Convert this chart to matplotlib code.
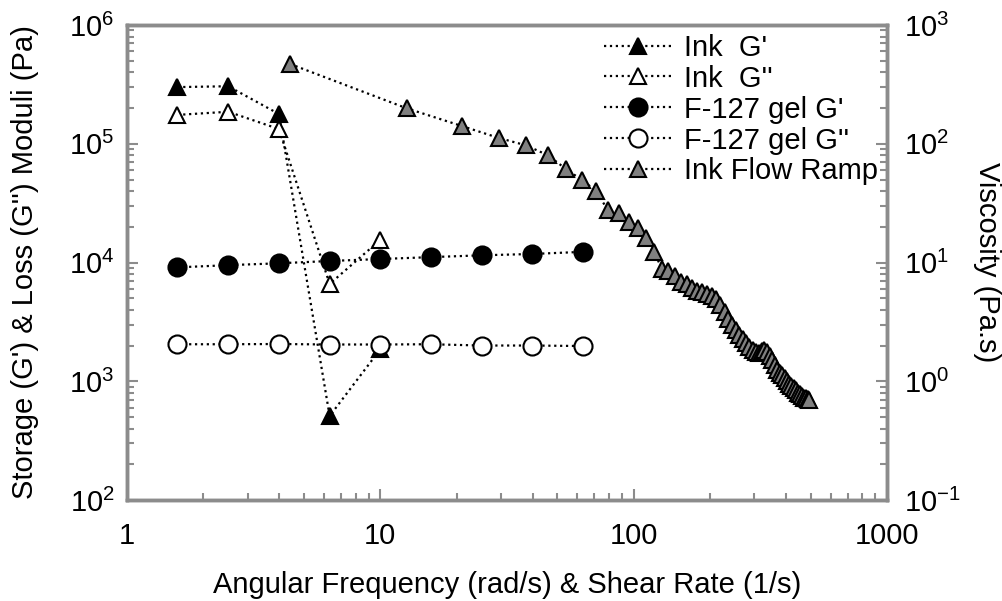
import matplotlib
matplotlib.use("Agg")
import matplotlib.pyplot as plt
from matplotlib.ticker import LogLocator, NullFormatter

plt.rcParams['font.family'] = ['Liberation Sans', 'DejaVu Sans']
plt.rcParams['mathtext.fontset'] = 'custom'
plt.rcParams['mathtext.rm'] = 'Liberation Sans'
plt.rcParams['mathtext.it'] = 'Liberation Sans'
plt.rcParams['mathtext.default'] = 'regular'

# oscillatory sweep (angular frequency, rad/s)
freq = [1.58, 2.51, 3.98, 6.31, 10.0, 15.8, 25.1, 39.8, 63.1]

ink_g1 = [3.0e5, 3.05e5, 1.78e5, 510, 1860]
ink_g2 = [1.75e5, 1.86e5, 1.33e5, 6.6e3, 1.55e4]
gel_g1 = [9.1e3, 9.5e3, 9.85e3, 1.03e4, 1.07e4, 1.11e4, 1.15e4, 1.18e4, 1.23e4]
gel_g2 = [2050, 2050, 2060, 2040, 2040, 2050, 2000, 2000, 1980]

# flow ramp (shear rate 1/s vs viscosity Pa.s)
shear = [4.4, 12.7, 21.0, 29.3, 37.6, 45.9, 54.2, 62.5, 70.8, 79.1,
         87.4, 95.7, 104.0, 112.3, 120.6, 128.9, 137.2, 145.5, 153.8, 162.1,
         170.4, 178.7, 187.0, 195.3, 203.6, 211.9, 220.2, 228.5, 236.8, 245.1,
         253.4, 261.7, 270.0, 278.3, 286.6, 294.9, 303.2, 311.5, 319.8, 328.1,
         336.4, 344.7, 353.0, 361.3, 369.6, 377.9, 386.2, 394.5, 402.8, 411.1,
         419.4, 427.7, 436.0, 444.3, 452.6, 460.9, 469.2, 477.5, 485.8, 494.1]
visc = [470, 199, 141, 112, 97, 80, 61, 49.5, 40.3, 27.7,
        25.9, 22.1, 19.4, 16.0, 12.3, 8.9, 8.5, 7.7, 6.9, 6.6,
        6.1, 5.8, 5.6, 5.4, 5.2, 4.95, 4.4, 3.85, 3.35, 2.95,
        2.68, 2.47, 2.29, 2.11, 1.96, 1.85, 1.77, 1.73, 1.80, 1.82,
        1.76, 1.64, 1.52, 1.37, 1.24, 1.17, 1.12, 1.06, 1.01, 0.95,
        0.91, 0.88, 0.85, 0.80, 0.78, 0.75, 0.73, 0.72, 0.71, 0.695]

spine_gray = "#8c8c8c"
fs = 21

fig = plt.figure(figsize=(10.03, 6.01), dpi=100)
ax = fig.add_axes([0.1266, 0.168, 0.7577, 0.7904])
ax2 = ax.twinx()

kw = dict(linestyle=":", linewidth=1.6, color="black", markeredgecolor="black",
          markeredgewidth=1.5)
h1, = ax.plot(freq[:5], ink_g1, marker="^", markersize=12, markerfacecolor="black",
              label="Ink  G'", **kw)
h2, = ax.plot(freq[:5], ink_g2, marker="^", markersize=12, markerfacecolor="white",
              label="Ink  G''", **kw)
h3, = ax.plot(freq, gel_g1, marker="o", markersize=13, markerfacecolor="black",
              label="F-127 gel G'", **kw)
h4, = ax.plot(freq, gel_g2, marker="o", markersize=13, markerfacecolor="white",
              label="F-127 gel G''", **kw)
h5, = ax2.plot(shear, visc, marker="^", markersize=12, markerfacecolor="#808080",
               label="Ink Flow Ramp", **kw)

ax.set_xscale("log")
ax.set_yscale("log")
ax2.set_yscale("log")
ax.set_xlim(1, 1000)
ax.set_ylim(1e2, 1e6)
ax2.set_ylim(1e-1, 1e3)

ax.set_xticks([1, 10, 100, 1000])
ax.set_xticklabels(["1", "10", "100", "1000"])
ax.xaxis.set_minor_locator(LogLocator(base=10, subs=range(2, 10)))
ax.xaxis.set_minor_formatter(NullFormatter())

for a in (ax, ax2):
    for s in a.spines.values():
        s.set_color(spine_gray)
        s.set_linewidth(2.5)
    a.tick_params(which="both", direction="in", color=spine_gray, width=1.5,
                  labelsize=fs)
    a.tick_params(which="major", length=8)
    a.tick_params(which="minor", length=5)

ax.tick_params(axis="y", which="both", right=False, pad=9)
ax.tick_params(axis="x", which="both", top=False, pad=16)
ax2.tick_params(axis="y", which="both", left=False, pad=12)

ax.set_xlabel("Angular Frequency (rad/s) & Shear Rate (1/s)", fontsize=fs)
ax.xaxis.set_label_coords(0.5, -0.179)
ax.xaxis.label.set_va("center")
ax.set_ylabel("Storage (G') & Loss (G'') Moduli (Pa)", fontsize=fs)
ax.yaxis.set_label_coords(-0.134, 0.5)
ax.yaxis.label.set_va("center")
ax2.set_ylabel("Viscosity (Pa.s)", fontsize=fs, rotation=270)
ax2.yaxis.set_label_coords(1.1316, 0.5)
ax2.yaxis.label.set_va("center")
ax2.yaxis.label.set_ha("center")

ax2.legend(handles=[h1, h2, h3, h4, h5], loc="upper right",
           bbox_to_anchor=(1.0, 1.0), frameon=False, fontsize=fs,
           handlelength=2.3, handletextpad=0.45, labelspacing=0.1,
           borderaxespad=0.2, borderpad=0.1)

fig.savefig("out.png", dpi=100)
